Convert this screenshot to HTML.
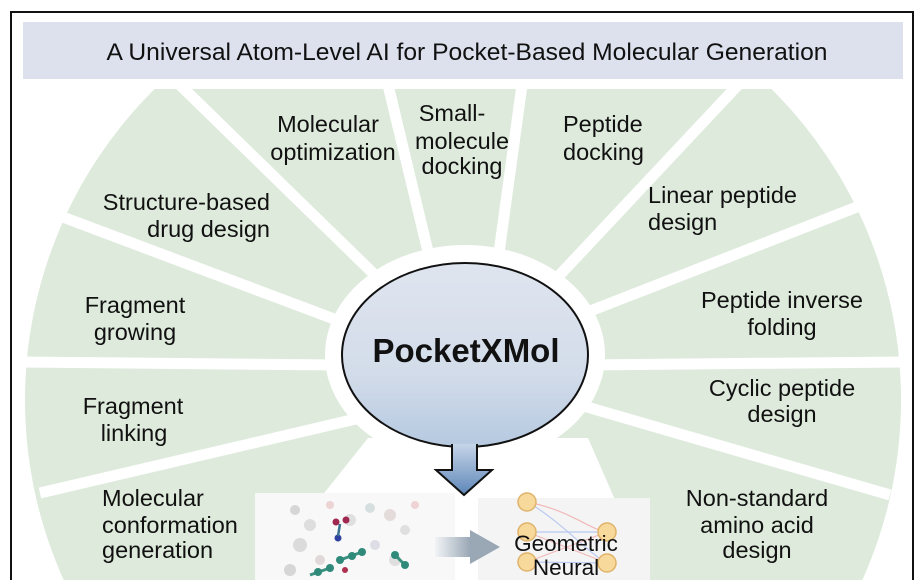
<!DOCTYPE html>
<html><head><meta charset="utf-8"><style>
html,body{margin:0;padding:0;background:#fff;overflow:hidden;width:921px;height:580px;}
svg{display:block;}
text{font-family:"Liberation Sans",Arial,sans-serif;fill:#111;}
</style></head><body>
<svg width="921" height="580" viewBox="0 0 921 580" xmlns="http://www.w3.org/2000/svg">
<defs>
<clipPath id="c"><rect x="20" y="89" width="885" height="491"/></clipPath>
<linearGradient id="eg" x1="0" y1="0" x2="0" y2="1"><stop offset="0" stop-color="#dfe5ef"/><stop offset="0.6" stop-color="#d3dcea"/><stop offset="1" stop-color="#b5c9e0"/></linearGradient>
<linearGradient id="ag" x1="0" y1="0" x2="0" y2="1"><stop offset="0" stop-color="#c6d5e8"/><stop offset="1" stop-color="#5d86b8"/></linearGradient>
<linearGradient id="hg" x1="0" y1="0" x2="1" y2="0"><stop offset="0" stop-color="#f2f4f6"/><stop offset="1" stop-color="#9aa8b6"/></linearGradient>
</defs>
<rect width="921" height="580" fill="#fff"/>
<g clip-path="url(#c)">
<circle cx="463" cy="400" r="438" fill="#deebdc"/>
</g>
<g stroke="#fff" stroke-width="11" stroke-linecap="butt">
<line x1="180" y1="85" x2="380" y2="280"/>
<line x1="388" y1="85" x2="430" y2="260"/>
<line x1="522" y1="85" x2="498" y2="260"/>
<line x1="738" y1="85" x2="555" y2="280"/>
<line x1="862" y1="205" x2="580" y2="315"/>
<line x1="905" y1="362" x2="580" y2="365"/>
<line x1="890" y1="495" x2="580" y2="405"/>
<line x1="60" y1="216" x2="350" y2="325"/>
<line x1="20" y1="362" x2="340" y2="365"/>
<line x1="40" y1="493" x2="360" y2="418"/>
</g>
<ellipse cx="465" cy="355" rx="140" ry="110" fill="#fff"/>
<polygon points="368,438 255,580 650,580 588,438" fill="#fff"/>
<rect x="255" y="493" width="200" height="87" fill="#f8f8f8"/>
<rect x="478" y="498" width="172" height="82" fill="#f4f4f4"/>
<g opacity="0.55">
<circle cx="295" cy="510" r="5" fill="#bbb"/><circle cx="310" cy="525" r="6" fill="#c9c9c9"/><circle cx="330" cy="505" r="4" fill="#e5b5b5"/>
<circle cx="350" cy="520" r="6" fill="#ccc"/><circle cx="370" cy="508" r="5" fill="#bcc"/><circle cx="390" cy="515" r="6" fill="#d5c5c5"/>
<circle cx="405" cy="530" r="5" fill="#ccc"/><circle cx="300" cy="545" r="7" fill="#c5c5c5"/><circle cx="320" cy="560" r="5" fill="#d0c0c0"/>
<circle cx="395" cy="560" r="6" fill="#ccc"/><circle cx="415" cy="505" r="4" fill="#e5b5b5"/><circle cx="290" cy="570" r="6" fill="#bbb"/>
<circle cx="375" cy="545" r="5" fill="#c8c8d8"/>
</g>
<g stroke="#3a9080" stroke-width="3"><line x1="340" y1="560" x2="362" y2="552"/><line x1="395" y1="555" x2="405" y2="565"/><line x1="310" y1="575" x2="330" y2="568"/></g>
<circle cx="340" cy="560" r="4" fill="#2f8a7a"/><circle cx="352" cy="556" r="4" fill="#2f8a7a"/><circle cx="362" cy="552" r="4" fill="#2f8a7a"/>
<circle cx="395" cy="555" r="4" fill="#2f8a7a"/><circle cx="405" cy="565" r="4" fill="#2f8a7a"/><circle cx="318" cy="572" r="4" fill="#2f8a7a"/><circle cx="330" cy="568" r="4" fill="#2f8a7a"/>
<circle cx="345" cy="570" r="3" fill="#b03050"/><circle cx="336" cy="522" r="3.5" fill="#a02850"/><circle cx="346" cy="520" r="3.5" fill="#a02850"/><circle cx="338" cy="538" r="3.5" fill="#3040a0"/>
<line x1="340" y1="524" x2="338" y2="536" stroke="#3a7090" stroke-width="2.5"/>
<rect x="435" y="537" width="35" height="20" fill="url(#hg)"/>
<polygon points="470,530 500,547 470,564" fill="#9aa8b6"/>
<g stroke-width="1.2" fill="none" opacity="0.7">
<path d="M527,502 C570,510 590,530 607,532" stroke="#f0a0a0"/><path d="M527,502 C560,520 590,555 607,563" stroke="#a0b8f0"/>
<path d="M527,532 L607,532" stroke="#a0b8f0"/><path d="M527,532 L607,563" stroke="#f0a0a0"/><path d="M527,562 L607,532" stroke="#f0a0a0"/><path d="M527,562 L607,563" stroke="#a0b8f0"/>
</g>
<g fill="#f8d99c" stroke="#e0b36a" stroke-width="1.5">
<circle cx="527" cy="502" r="9"/><circle cx="527" cy="532" r="9"/><circle cx="527" cy="562" r="9"/><circle cx="607" cy="532" r="9"/><circle cx="607" cy="563" r="9"/>
</g>
<text x="566" y="551" font-size="22.5" text-anchor="middle">Geometric</text>
<text x="566" y="575" font-size="22.5" text-anchor="middle">Neural</text>
<ellipse cx="465" cy="355" rx="123" ry="92" fill="url(#eg)" stroke="#111" stroke-width="2"/>
<path d="M452,444 L452,470 L436,470 L464,495 L492,470 L477,470 L477,444" fill="url(#ag)" stroke="#111" stroke-width="2"/>
<text x="466" y="362" font-size="33" font-weight="bold" text-anchor="middle">PocketXMol</text>
<path d="M11,580 L11,12 L913,12 L913,580" fill="none" stroke="#111" stroke-width="2"/>
<rect x="23" y="22" width="880" height="57" fill="#dce1ed"/>
<text x="467" y="60" font-size="24.3" text-anchor="middle" textLength="721" lengthAdjust="spacingAndGlyphs">A Universal Atom-Level AI for Pocket-Based Molecular Generation</text>
<g font-size="23.5">
<text x="328" y="132" text-anchor="middle">Molecular</text><text x="333" y="160" text-anchor="middle">optimization</text>
<text x="452" y="121" text-anchor="middle">Small-</text><text x="462" y="149" text-anchor="middle">molecule</text><text x="462" y="174" text-anchor="middle">docking</text>
<text x="563" y="132">Peptide</text><text x="563" y="160">docking</text>
<text x="648" y="203">Linear peptide</text><text x="648" y="230">design</text>
<text x="782" y="308" text-anchor="middle">Peptide inverse</text><text x="782" y="335" text-anchor="middle">folding</text>
<text x="782" y="396" text-anchor="middle">Cyclic peptide</text><text x="782" y="422" text-anchor="middle">design</text>
<text x="757" y="506" text-anchor="middle">Non-standard</text><text x="757" y="533" text-anchor="middle">amino acid</text><text x="757" y="558" text-anchor="middle">design</text>
<text x="270" y="210" text-anchor="end">Structure-based</text><text x="270" y="237" text-anchor="end">drug design</text>
<text x="135" y="313" text-anchor="middle">Fragment</text><text x="135" y="340" text-anchor="middle">growing</text>
<text x="133" y="414" text-anchor="middle">Fragment</text><text x="134" y="441" text-anchor="middle">linking</text>
<text x="102" y="506">Molecular</text><text x="102" y="533">conformation</text><text x="102" y="558">generation</text>
</g>
</svg>
</body></html>
